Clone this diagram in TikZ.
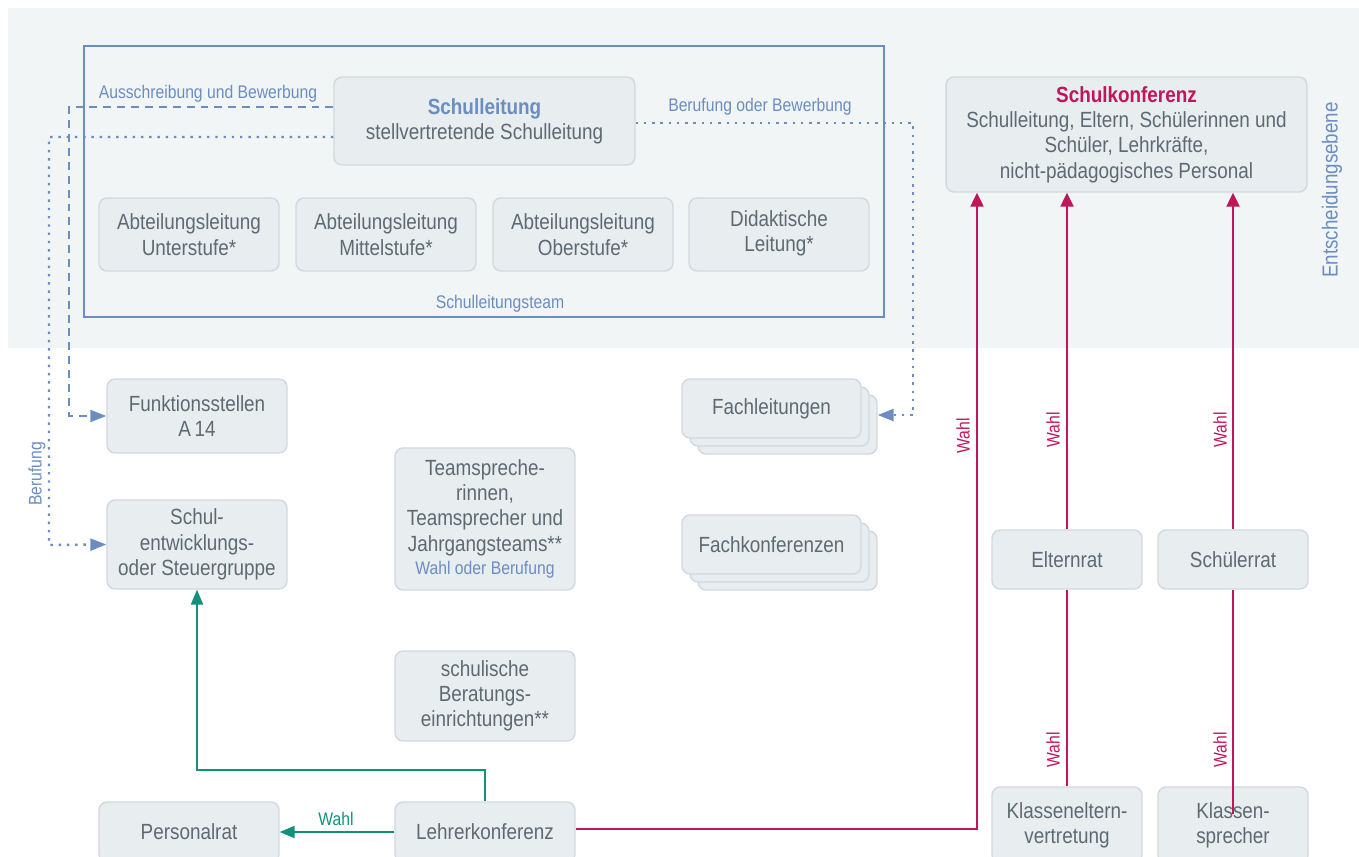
\documentclass[tikz,border=0pt]{standalone}
\usepackage{fontspec}
\setmainfont[FakeStretch=0.86]{Liberation Sans}
\usetikzlibrary{arrows.meta}

\definecolor{bandgray}{HTML}{F1F5F6}
\definecolor{boxfill}{HTML}{E8EDF0}
\definecolor{boxline}{HTML}{D2D9DE}
\definecolor{textgray}{HTML}{5E6A72}
\definecolor{sblue}{HTML}{6B8DC2}
\definecolor{wahlred}{HTML}{C0165C}
\definecolor{wahlgreen}{HTML}{11917A}

\newcommand{\boxfont}{\fontsize{12.5}{14.4}\selectfont}
\newcommand{\labelfont}{\fontsize{10.4}{12}\selectfont}

\begin{document}
\begin{tikzpicture}[
    x=0.02cm, y=-0.02cm,
    box/.style={draw=boxline, fill=boxfill, line width=0.8pt, rounded corners=0.16cm,
        text=textgray, align=center, font=\boxfont, inner sep=2pt},
    lbl/.style={font=\labelfont, inner sep=1pt},
    dashline/.style={sblue, line width=1.1pt, dash pattern=on 4.5pt off 3.4pt,
        -{Triangle[length=0.32cm, width=0.24cm]}},
    dotline/.style={sblue, line width=1.4pt, dash pattern=on 1.4pt off 3.3pt,
        -{Triangle[length=0.32cm, width=0.24cm]}},
    wahl/.style={wahlred, line width=1.3pt},
    lkwahl/.style={wahlgreen, line width=1.3pt}
]
\useasboundingbox (0,0) rectangle (1359,856);
\clip (0,0) rectangle (1359,856);

% Entscheidungsebene
\fill[bandgray] (8,8) rectangle (1359,348);
\draw[sblue, line width=0.7pt] (84,46) rectangle (884,317);
\node[lbl, text=sblue] (team) at (500,304) {Schulleitungsteam};
\node[lbl, text=sblue, font=\fontsize{12.4}{14}\selectfont, rotate=90] (ebene) at (1332,190) {Entscheidungsebene};

% Schulleitung
\node[box, minimum width=6.02cm, minimum height=1.76cm] (sl) at (484.5,121)
    {\textcolor{sblue}{\bfseries Schulleitung}\\stellvertretende Schulleitung};

% Abteilungen
\node[box, minimum width=3.6cm, minimum height=1.46cm] (abt1) at (189,234.5) {Abteilungsleitung\\Unterstufe*};
\node[box, minimum width=3.6cm, minimum height=1.46cm] (abt2) at (386,234.5) {Abteilungsleitung\\Mittelstufe*};
\node[box, minimum width=3.6cm, minimum height=1.46cm] (abt3) at (583,234.5) {Abteilungsleitung\\Oberstufe*};
\node[box, minimum width=3.6cm, minimum height=1.46cm] (did) at (779,234.5) {Didaktische\\Leitung*\strut};

% Schulkonferenz
\node[box, minimum width=7.22cm, minimum height=2.3cm] (sk) at (1126.5,134.5)
    {\textcolor{wahlred}{\bfseries Schulkonferenz}\\Schulleitung, Eltern, Schülerinnen und\\Schüler, Lehrkräfte,\\nicht-pädagogisches Personal};

% left column
\node[box, minimum width=3.6cm, minimum height=1.48cm] (fs) at (197,416) {Funktionsstellen\\A\,14};
\node[box, minimum width=3.6cm, minimum height=1.78cm] (seg) at (197,544.5) {Schul-\\entwicklungs-\\oder Steuergruppe};
\node[box, minimum width=3.6cm, minimum height=1.2cm] (pr) at (189,832) {Personalrat};

% middle column
\node[box, minimum width=3.6cm, minimum height=2.84cm] (ts) at (485,519)
    {Teamspreche-\\rinnen,\\Teamsprecher und\\Jahrgangsteams**\\[-1pt]{\labelfont\textcolor{sblue}{Wahl oder Berufung}}};
\node[box, minimum width=3.6cm, minimum height=1.8cm] (ber) at (485,696) {schulische\\Beratungs-\\einrichtungen**};
\node[box, minimum width=3.6cm, minimum height=1.2cm] (lk) at (485,832) {Lehrerkonferenz};

% stacked boxes
\node[box, minimum width=3.58cm, minimum height=1.18cm] (fl3) at (787.5,424.5) {};
\node[box, minimum width=3.58cm, minimum height=1.18cm] (fl2) at (779.5,416.5) {};
\node[box, minimum width=3.58cm, minimum height=1.18cm] (fl) at (771.5,408.5) {Fachleitungen};
\node[box, minimum width=3.58cm, minimum height=1.18cm] (fk3) at (787.5,560.5) {};
\node[box, minimum width=3.58cm, minimum height=1.18cm] (fk2) at (779.5,552.5) {};
\node[box, minimum width=3.58cm, minimum height=1.18cm] (fk) at (771.5,544.5) {Fachkonferenzen};

% Eltern und Schueler
\node[box, minimum width=3cm, minimum height=1.18cm] (er) at (1067,559.5) {Elternrat};
\node[box, minimum width=3cm, minimum height=1.18cm] (sr) at (1233,559.5) {Schülerrat};
\node[box, minimum width=3cm, minimum height=1.52cm] (ke) at (1067,825) {Klasseneltern-\\vertretung};
\node[box, minimum width=3cm, minimum height=1.52cm] (ks) at (1233,825) {Klassen-\\sprecher};

% Berufung and Bewerbung
\coordinate (c1) at (69,416);
\coordinate (c2) at (49,545);
\coordinate (c3) at (913,415);
\draw[dashline] ([yshift=0.28cm]sl.west) -| (c1) -- (fs.west);
\draw[dotline] ([yshift=-0.32cm]sl.west) -| (c2) -- (seg.west);
\draw[dotline] ([yshift=-0.04cm]sl.east) -| (c3) -- (c3 -| fl3.east);
\node[lbl, text=sblue] (aus) at (208,94) {Ausschreibung und Bewerbung};
\node[lbl, text=sblue] (bob) at (760,107) {Berufung oder Bewerbung};
\node[lbl, text=sblue, rotate=90] (beruf) at (37,474) {Berufung};

% Lehrerkonferenz
\coordinate (c4) at (485,770);
\coordinate (c5) at (977,829);
\draw[lkwahl, -{Triangle[length=0.3cm, width=0.24cm]}] (lk.west) -- (pr.east);
\draw[lkwahl, -{Triangle[length=0.3cm, width=0.24cm]}] (lk.north) -- (c4) -| (seg.south);
\node[lbl, text=wahlgreen] (wlk) at (336,819) {Wahl};
\draw[wahl, -{Triangle[length=0.28cm, width=0.26cm]}] ([yshift=0.06cm]lk.east) -| (c5) -- (c5 |- sk.south);
\node[lbl, text=wahlred, rotate=90] (w1) at (963,436) {Wahl};

% Wahl to Schulkonferenz
\draw[wahl, -{Triangle[length=0.28cm, width=0.26cm]}] (er.north) -- (er.north |- sk.south);
\draw[wahl, -{Triangle[length=0.28cm, width=0.26cm]}] (sr.north) -- (sr.north |- sk.south);
\node[lbl, text=wahlred, rotate=90] (w2) at (1053,430) {Wahl};
\node[lbl, text=wahlred, rotate=90] (w3) at (1220,430) {Wahl};

% Klassen
\draw[wahl] (ke.north) -- (er.south);
\draw[wahl] ([yshift=-0.56cm]ks.north) -- (sr.south);
\node[lbl, text=wahlred, rotate=90] (w4) at (1053,750) {Wahl};
\node[lbl, text=wahlred, rotate=90] (w5) at (1220,750) {Wahl};

\end{tikzpicture}
\end{document}
